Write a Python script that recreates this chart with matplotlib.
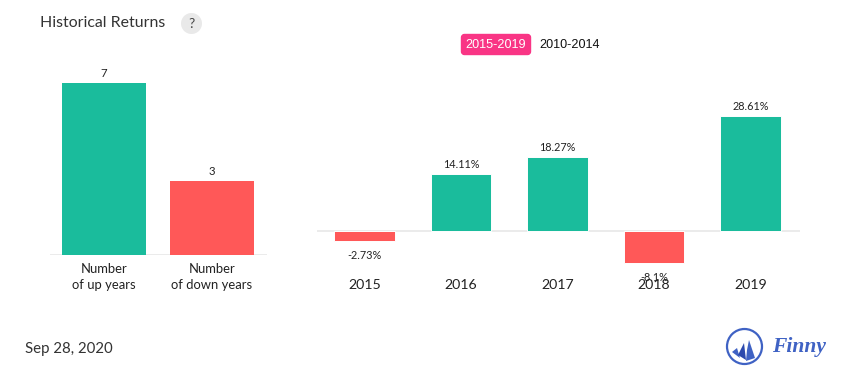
import matplotlib
matplotlib.use("Agg")
import matplotlib.pyplot as plt
from matplotlib.patches import Circle, FancyBboxPatch, Polygon

W, H = 855, 382
GREEN, RED, PINK = "#1abc9c", "#ff5858", "#f93585"
BLUE, DARK = "#3f62c4", "#333333"

count_labels = ["Number\nof up years", "Number\nof down years"]
count_values = [7, 3]
years = ["2015", "2016", "2017", "2018", "2019"]
returns = [-2.73, 14.11, 18.27, -8.1, 28.61]
return_labels = ["-2.73%", "14.11%", "18.27%", "-8.1%", "28.61%"]

plt.rcParams["font.family"] = ["Lato", "DejaVu Sans"]
fig = plt.figure(figsize=(W / 100, H / 100), dpi=100)


def px_axes(x0, y0, x1, y1):
    return fig.add_axes([x0 / W, 1 - y1 / H, (x1 - x0) / W, (y1 - y0) / H])


def clean(ax):
    for s in ax.spines.values():
        s.set_visible(False)
    ax.set_yticks([])
    ax.patch.set_alpha(0)
    ax.tick_params(axis="x", length=0)


# left panel: baseline y=254.7, 7 units = 172 px
left = px_axes(50, 69, 267, 255)
unit = 171.6 / 7
left.set_xlim(-0.5, 1.509)
left.set_ylim(-0.3 / unit, 185.7 / unit)
left.axhline(0, color="#e6e6e6", lw=1.1, zorder=1)
lb = left.bar(range(2), count_values, width=0.778, color=[GREEN, RED], zorder=2)
for r, v in zip(lb, count_values):
    left.annotate(str(v), (r.get_x() + r.get_width() / 2, v), xytext=(0, 3.2),
                  textcoords="offset points", ha="center", va="bottom",
                  fontsize=8.2, color="#222222")
clean(left)
left.set_xticks(range(2))
left.set_xticklabels(count_labels, fontsize=9.4, color="#222222", linespacing=1.36)
left.tick_params(axis="x", pad=5.8)

# right panel: baseline y=231, about 4 px per unit
right = px_axes(317, 89, 800, 269)
unit2 = 4.0
right.set_xlim(-0.492, 4.513)
right.set_ylim(-38.5 / unit2, 141.5 / unit2)
right.axhline(0, color="#e6e6e6", lw=1.1, zorder=1)
colors = [GREEN if v >= 0 else RED for v in returns]
rb = right.bar(range(5), returns, width=0.625, color=colors,
               edgecolor="white", linewidth=0.7, zorder=2)
for i, (v, s) in enumerate(zip(returns, return_labels)):
    off = 3.2 if v >= 0 else -6.2
    right.annotate(s, (i, v), xytext=(0, off), textcoords="offset points",
                   ha="center", va="bottom" if v >= 0 else "top",
                   fontsize=7.8, color="#222222", zorder=4)
clean(right)
right.set_xticks(range(5))
right.set_xticklabels(years, fontsize=10.2, color="#222222")
right.tick_params(axis="x", pad=7.5)

# overlay for header, legend and logo, in pixel coordinates
ov = fig.add_axes([0, 0, 1, 1], zorder=5)
ov.set_xlim(0, W)
ov.set_ylim(H, 0)
ov.axis("off")
ov.patch.set_alpha(0)

ov.text(40, 22.8, "Historical Returns", fontsize=11.45, color=DARK, va="center", ha="left")
ov.add_patch(Circle((191.5, 23.5), 10.5, fc="#e9e9e9", ec="none"))
ov.text(191.5, 23.5, "?", fontsize=10, color="#444444", ha="center", va="center")

ov.add_patch(FancyBboxPatch((461.5, 34.5), 69, 20, boxstyle="round,pad=0,rounding_size=3",
                            fc=PINK, ec=PINK, lw=1))
ov.text(496, 44.6, "2015-2019", fontsize=9.1, color="white", ha="center", va="center",
        family="Liberation Sans")
ov.text(569.8, 44.6, "2010-2014", fontsize=9.1, color="#111111", ha="center", va="center",
        family="Liberation Sans")

ov.text(25, 349, "Sep 28, 2020", fontsize=10.8, color=DARK, va="center", ha="left")

# logo
ov.add_patch(Circle((744.5, 346.5), 17.5, fc="none", ec=BLUE, lw=1.6))
ov.add_patch(Polygon([(737, 348), (740, 358), (732, 352)], fc=BLUE, ec="none"))
ov.add_patch(Polygon([(744, 343), (746, 360), (738, 355)], fc="#2c49ad", ec="none"))
ov.add_patch(Polygon([(749, 340), (755, 358), (746, 361), (747, 350)], fc=BLUE, ec="none"))
ov.text(772.5, 347, "Finny", fontsize=15.5, color=BLUE, style="italic", weight="bold",
        family="Liberation Serif", va="center", ha="left")

fig.savefig("out.png", dpi=100)
